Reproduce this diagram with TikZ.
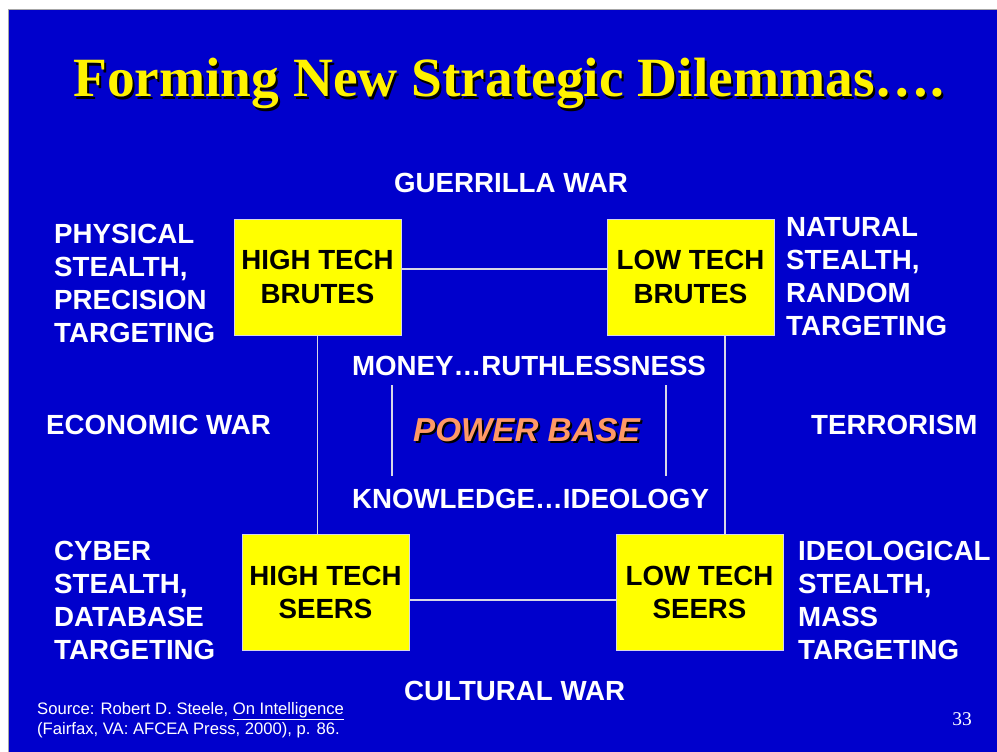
\documentclass[tikz,border=0pt]{standalone}
\usepackage{fontspec}
\setmainfont{Liberation Sans}
\newfontfamily\seriffont{Liberation Serif}
\definecolor{slideblue}{RGB}{0,0,204}
\definecolor{boxyellow}{RGB}{255,255,0}
\definecolor{powerorange}{RGB}{255,153,102}
\definecolor{linegray}{RGB}{215,215,230}
\begin{document}
\begin{tikzpicture}[x=1bp,y=-1bp,
  lbl/.style={text=white,font=\bfseries\fontsize{27.8}{33.4}\selectfont,inner sep=0},
  boxnode/.style={draw=linegray,line width=1bp,fill=boxyellow,minimum width=167bp,minimum height=116bp,inner sep=0,align=center,font=\bfseries\fontsize{27.8}{33.4}\selectfont,text=black},
  conn/.style={draw=linegray,line width=1.2bp},
  titlefont/.style={font=\seriffont\bfseries\fontsize{55.6}{60}\selectfont,inner sep=0,anchor=base},
  powerfont/.style={font=\bfseries\itshape\fontsize{33.3}{36}\selectfont,inner sep=0,anchor=base west}]
\useasboundingbox (0,0) rectangle (997,752);
\fill[white] (0,0) rectangle (997,752);
\fill[slideblue] (9,10) rectangle (997,752);
\draw[gray!70,line width=1bp] (8.5,752) -- (8.5,9.5) -- (997,9.5);

% title with shadow
\node[titlefont,text=black] (titleshadow) at (510.5,99.5) {Forming New Strategic Dilemmas….};
\node[titlefont,text=yellow] (title) at (508.5,97) {Forming New Strategic Dilemmas….};

% boxes
\node[boxnode] (htb) at (317.5,277) {HIGH TECH\\BRUTES};
\node[boxnode] (ltb) at (690.5,277) {LOW TECH\\BRUTES};
\node[boxnode] (hts) at (325.5,592.5) {HIGH TECH\\SEERS};
\node[boxnode] (lts) at (699.5,592.5) {LOW TECH\\SEERS};

% connectors
\draw[conn] ([yshift=8bp]htb.east) -- ([yshift=8bp]ltb.west);
\draw[conn] ([yshift=-7.5bp]hts.east) -- ([yshift=-7.5bp]lts.west);
\draw[conn] (htb.south) -- (htb.south |- hts.north);
\draw[conn] ([xshift=34.5bp]ltb.south) -- ([xshift=34.5bp]ltb.south |- lts.north);
\coordinate (ilt) at (392,385);
\coordinate (ilb) at (392,476);
\coordinate (irt) at (666,385);
\coordinate (irb) at (666,476);
\draw[conn] (ilt) -- (ilb);
\draw[conn] (irt) -- (irb);

% labels
\node[lbl,anchor=base] (guerrilla) at (511,192) {GUERRILLA WAR};
\node[lbl,anchor=base west] (physical) at (54,243) {\parbox[t]{6cm}{PHYSICAL\\STEALTH,\\PRECISION\\TARGETING}};
\node[lbl,anchor=base west] (natural) at (786,236) {\parbox[t]{6cm}{NATURAL\\STEALTH,\\RANDOM\\TARGETING}};
\node[lbl,anchor=base west] (economic) at (46,434) {ECONOMIC WAR};
\node[lbl,anchor=base west] (terrorism) at (811,434) {TERRORISM};
\node[lbl,anchor=base] (money) at (529,375) {MONEY…RUTHLESSNESS};
\node[lbl,anchor=base] (knowledge) at (530.5,508) {KNOWLEDGE…IDEOLOGY};
\node[powerfont,text=black] (powershadow) at (415,443) {POWER BASE};
\node[powerfont,text=powerorange] (power) at (413,441) {POWER BASE};
\node[lbl,anchor=base west] (cyber) at (54,560) {\parbox[t]{6cm}{CYBER\\STEALTH,\\DATABASE\\TARGETING}};
\node[lbl,anchor=base west] (ideological) at (798,560) {\parbox[t]{6cm}{IDEOLOGICAL\\STEALTH,\\MASS\\TARGETING}};
\node[lbl,anchor=base west] (cultural) at (404,700) {CULTURAL WAR};

% source and page number
\node[text=white,inner sep=0,anchor=base west,font=\fontsize{16.7}{20.1}\selectfont] (source) at (37,714) {\parbox[t]{14cm}{\raggedright Source: Robert D. Steele, \underline{On Intelligence}\\(Fairfax, VA: AFCEA Press, 2000), p. 86.}};
\node[text=white,inner sep=0,anchor=base east,font=\seriffont\fontsize{19.5}{22}\selectfont] (pagenum) at (972,725) {33};
\end{tikzpicture}
\end{document}
